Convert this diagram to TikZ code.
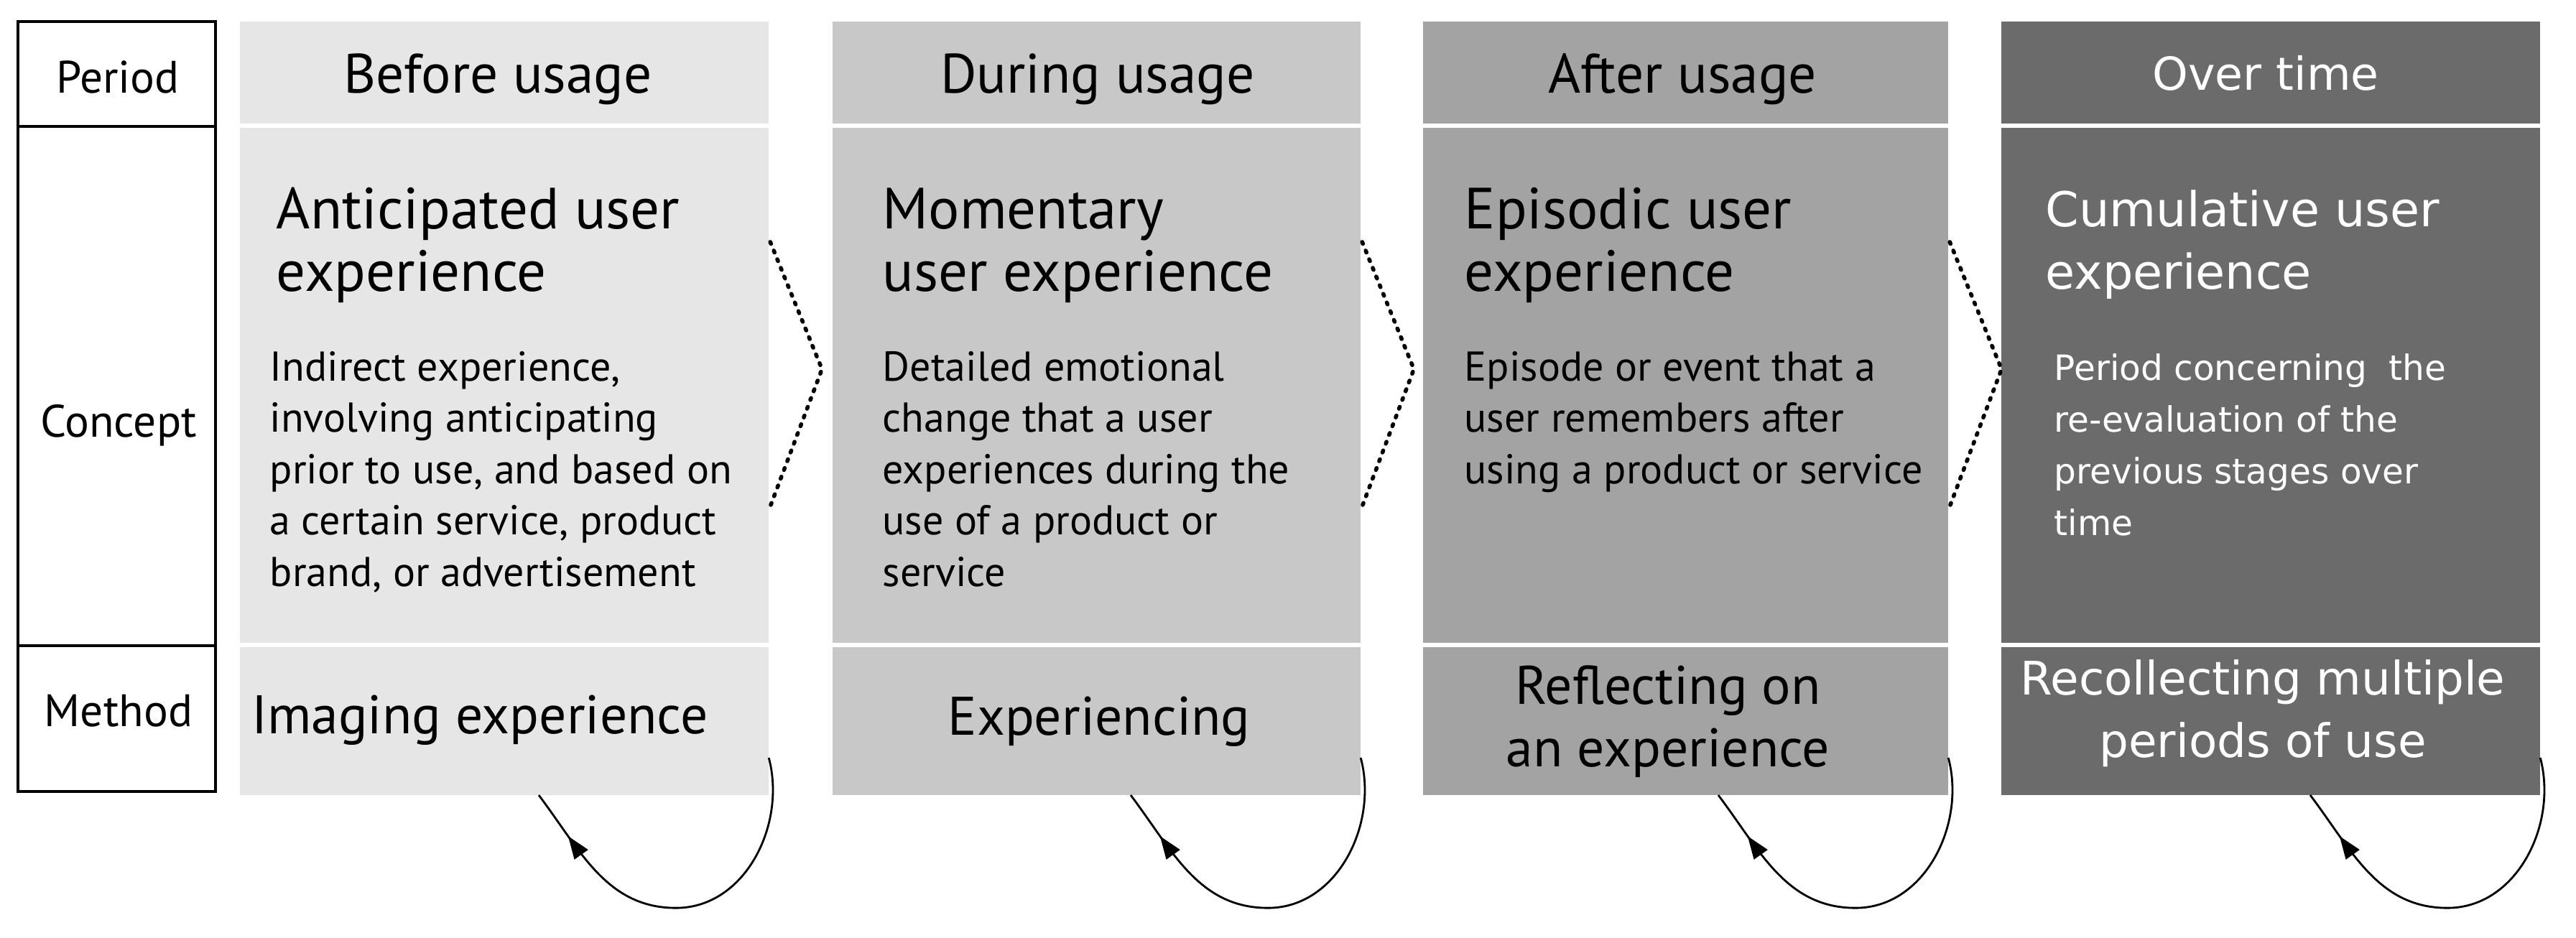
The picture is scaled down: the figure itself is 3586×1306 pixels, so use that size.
\documentclass[tikz,border=0pt]{standalone}
\usepackage{fontspec}
\setmainfont{PT Sans}
\newfontfamily\dvs{DejaVu Sans}
\usetikzlibrary{arrows.meta,decorations.markings}
\definecolor{cA}{HTML}{E6E6E6}
\definecolor{cB}{HTML}{C8C8C8}
\definecolor{cC}{HTML}{A3A3A3}
\definecolor{cD}{HTML}{6B6B6B}
\begin{document}
\begin{tikzpicture}[x=0.01cm,y=-0.01cm,
  cell/.style={inner sep=0pt,outer sep=0pt,draw=none},
  lblcell/.style={inner sep=0pt,outer sep=0pt,draw=black,line width=1.1pt,minimum width=2.75cm},
  lbl/.style={font=\fontsize{18}{20}\selectfont,inner sep=0pt},
  hdr/.style={font=\fontsize{22}{26}\selectfont,anchor=base,inner sep=0pt},
  ttl/.style={font=\fontsize{23}{24.7}\selectfont,align=left,anchor=base west,inner sep=0pt},
  dsc/.style={font=\fontsize{16.5}{20.3}\selectfont,align=left,anchor=base west,inner sep=0pt},
  mth/.style={font=\fontsize{21.5}{24.7}\selectfont,align=center,anchor=base,inner sep=0pt},
  hdrD/.style={font=\dvs\fontsize{18}{22}\selectfont,text=white,anchor=base,inner sep=0pt},
  ttlD/.style={font=\dvs\fontsize{19}{24.7}\selectfont,text=white,align=left,anchor=base west,inner sep=0pt},
  dscD/.style={font=\dvs\fontsize{13.8}{20.4}\selectfont,text=white,align=left,anchor=base west,inner sep=0pt},
  mthD/.style={font=\dvs\fontsize{18.3}{24.7}\selectfont,text=white,align=center,anchor=base,inner sep=0pt},
  chev/.style={line width=1.6pt,line cap=round,dash pattern=on 0.8pt off 2.9pt},
  cycle loop/.style={line width=0.8pt,postaction={decorate},
    decoration={markings,mark=at position 0.87 with {\arrow{Triangle[length=9pt,width=6.5pt]}}}}
]
\useasboundingbox (0,0) rectangle (3586,1306);
\fill[white] (0,0) rectangle (3586,1306);

% label column
\node[lblcell,minimum height=1.46cm] (lp) at (162.5,103) {};
\node[lblcell,minimum height=7.23cm] (lc) at (162.5,537.5) {};
\node[lblcell,minimum height=2.03cm] (lm) at (162.5,1000.5) {};
\node[lbl] (tp) at (164,107) {Period};
\node[lbl] (tc) at (165,592) {Concept};
\node[lbl] (tm) at (165,990) {Method};

% column 1
\node[cell,fill=cA,minimum width=7.36cm,minimum height=1.42cm] (h1) at (702,101) {};
\node[cell,fill=cA,minimum width=7.36cm,minimum height=7.17cm] (c1) at (702,536.5) {};
\node[cell,fill=cA,minimum width=7.36cm,minimum height=2.06cm] (m1) at (702,1004) {};
% column 2
\node[cell,fill=cB,minimum width=7.35cm,minimum height=1.42cm] (h2) at (1526.5,101) {};
\node[cell,fill=cB,minimum width=7.35cm,minimum height=7.17cm] (c2) at (1526.5,536.5) {};
\node[cell,fill=cB,minimum width=7.35cm,minimum height=2.06cm] (m2) at (1526.5,1004) {};
% column 3
\node[cell,fill=cC,minimum width=7.31cm,minimum height=1.42cm] (h3) at (2346.5,101) {};
\node[cell,fill=cC,minimum width=7.31cm,minimum height=7.17cm] (c3) at (2346.5,536.5) {};
\node[cell,fill=cC,minimum width=7.31cm,minimum height=2.06cm] (m3) at (2346.5,1004) {};
% column 4
\node[cell,fill=cD,minimum width=7.50cm,minimum height=1.42cm] (h4) at (3161,101) {};
\node[cell,fill=cD,minimum width=7.50cm,minimum height=7.17cm] (c4) at (3161,536.5) {};
\node[cell,fill=cD,minimum width=7.50cm,minimum height=2.06cm] (m4) at (3161,1004) {};

% headers
\node[hdr] (th1) at (693,129) {Before usage};
\node[hdr] (th2) at (1528,129) {During usage};
\node[hdr] (th3) at (2342,129) {After usage};
\node[hdrD] (th4) at (3154,125) {Over time};

% titles (base = last line)
\node[ttl] (tt1) at (384,405) {Anticipated user\\experience};
\node[ttl] (tt2) at (1228,405) {Momentary\\user experience};
\node[ttl] (tt3) at (2038,405) {Episodic user\\experience};
\node[ttlD] (tt4) at (2847,402) {Cumulative user\\experience};

% descriptions (base = last line)
\node[dsc] (td1) at (375,816) {Indirect experience,\\involving anticipating\\prior to use, and based on\\a certain service, product\\brand, or advertisement};
\node[dsc] (td2) at (1228,816) {Detailed emotional\\change that a user\\experiences during the\\use of a product or\\service};
\node[dsc] (td3) at (2038,673) {Episode or event that a\\user remembers after\\using a product or service};
\node[dscD] (td4) at (2859,745) {Period concerning\ \ the\\re-evaluation of the\\previous stages over\\time};

% methods
\node[mth] (tm1) at (668,1021) {Imaging experience};
\node[mth] (tm2) at (1530,1023) {Experiencing};
\node[mth] (tm3) at (2322,1067) {Reflecting on\\an experience};
\node[mthD] (tm4) at (3150,1054) {Recollecting multiple\\periods of use};

% dotted chevrons
\foreach \c/\n in {c1/c2,c2/c3,c3/c4}{
  \draw[chev] ([xshift=0.02cm,yshift=-1.59cm]\c.north east) -- ([xshift=0.74cm,yshift=-3.36cm]\c.north east) -- ([xshift=0.02cm,yshift=-5.27cm]\c.north east);
}

% loop arrows
\foreach \m in {m1,m2,m3,m4}{
  \draw[cycle loop] ([yshift=0.52cm]\m.south east) to[out=-75,in=0] ([xshift=-1.29cm,yshift=-1.57cm]\m.south east) to[out=180,in=-53] ([xshift=-3.2cm]\m.south east);
}
\end{tikzpicture}
\end{document}
